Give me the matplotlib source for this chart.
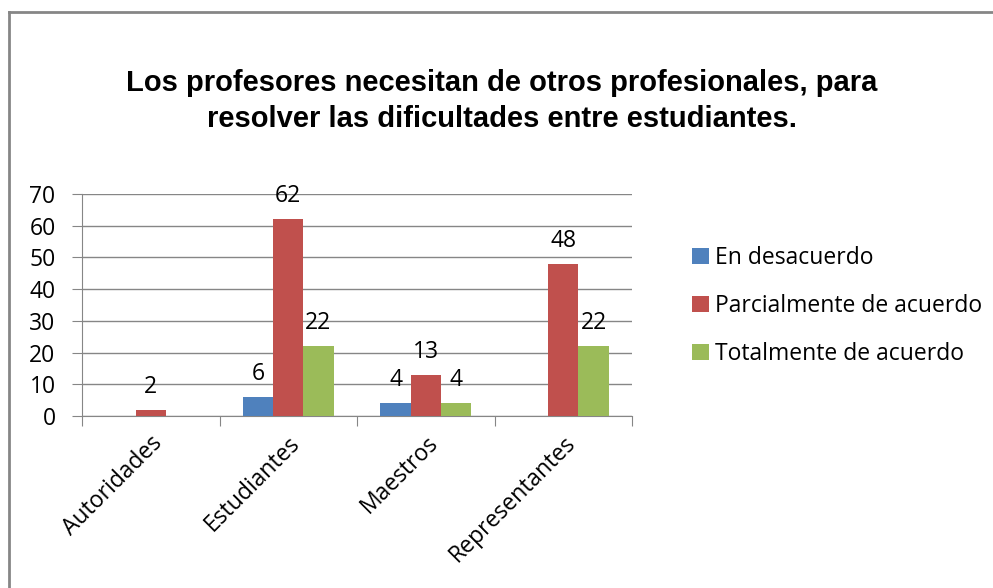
import matplotlib
matplotlib.use("Agg")
import matplotlib.pyplot as plt
import numpy as np
from matplotlib.lines import Line2D

categories = ["Autoridades", "Estudiantes", "Maestros", "Representantes"]
series_names = ["En desacuerdo", "Parcialmente de acuerdo", "Totalmente de acuerdo"]
en_desacuerdo = [0, 6, 4, 0]
parcialmente = [2, 62, 13, 48]
totalmente = [0, 22, 4, 22]
colors = ["#4F81BD", "#C0504D", "#9BBB59"]
title = "Los profesores necesitan de otros profesionales, para\nresolver las dificultades entre estudiantes."

plt.rcParams['font.family'] = ['Open Sans', 'DejaVu Sans']
FS = 16.5

W, H = 993, 588
fig = plt.figure(figsize=(W / 100, H / 100), dpi=100)
ax = fig.add_axes([82 / W, 1 - 416 / H, (632 - 82) / W, (416 - 194) / H])

x = np.arange(len(categories))
bw = 0.22
data = [en_desacuerdo, parcialmente, totalmente]
for i, (vals, c, name) in enumerate(zip(data, colors, series_names)):
    pos = x + (i - 1) * bw
    ax.bar(pos, vals, width=bw, color=c, label=name, zorder=3)
    for xp, v in zip(pos, vals):
        if v:
            ax.annotate(str(v), (xp, v), xytext=(0, 8), textcoords='offset points',
                        ha='center', va='bottom', fontsize=FS, color='black')

ax.set_xlim(-0.5, len(categories) - 0.5)
ax.set_ylim(0, 70)
ax.set_yticks(range(0, 71, 10))
ax.yaxis.grid(True, color='#868686', linewidth=1, zorder=0)
ax.set_axisbelow(True)
ax.set_xticks(np.arange(-0.5, len(categories), 1))
ax.set_xticklabels([])
ax.set_xticks(x, minor=True)
ax.set_xticklabels(categories, minor=True, rotation=45, ha='right', rotation_mode='anchor', fontsize=FS)
ax.tick_params(axis='x', which='minor', length=0, pad=11)
ax.tick_params(axis='x', which='major', length=7, color='#868686', direction='out')
ax.tick_params(axis='y', length=7, color='#868686', labelsize=FS, pad=12)
for s in ['top', 'right']:
    ax.spines[s].set_visible(False)
for s in ['left', 'bottom']:
    ax.spines[s].set_color('#868686')

fig.text(502 / W, 1 - 101 / H, title, ha='center', va='center', fontsize=21,
         fontweight='bold', family=['Liberation Sans', 'DejaVu Sans'], linespacing=1.36)

handles, labels = ax.get_legend_handles_labels()
fig.legend(handles, labels, loc='center left', bbox_to_anchor=(671 / W, 1 - 306 / H),
           frameon=False, fontsize=FS, handlelength=0.75, handleheight=0.7,
           handletextpad=0.25, labelspacing=1.05)

fig.add_artist(Line2D([9 / W, 1], [1 - 12 / H, 1 - 12 / H], color='#868686', linewidth=2, transform=fig.transFigure))
fig.add_artist(Line2D([9 / W, 9 / W], [0, 1 - 12 / H], color='#868686', linewidth=2, transform=fig.transFigure))

fig.savefig("out.png", dpi=100)
